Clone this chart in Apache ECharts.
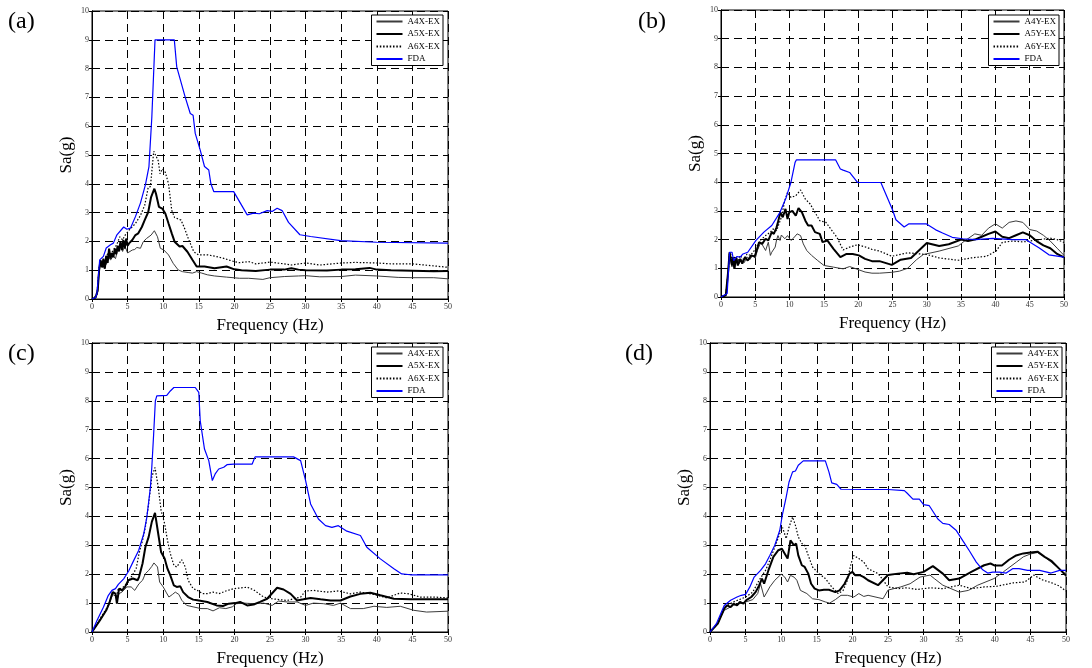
<!DOCTYPE html>
<html>
<head>
<meta charset="utf-8">
<script src="https://cdn.jsdelivr.net/npm/echarts@6/dist/echarts.min.js"></script>
<style>
html,body{margin:0;padding:0;background:#fff;}
#chart{width:1092px;height:668px;}
</style>
</head>
<body>
<div id="chart"></div>
<script>
// ---------- data (frequency Hz, Sa g) ----------
const xTicks = [0,5,10,15,20,25,30,35,40,45,50];
const yTicks = [0,1,2,3,4,5,6,7,8,9,10];
const panelLabels = ['(a)','(b)','(c)','(d)'];
const namesX = ['A4X-EX','A5X-EX','A6X-EX','FDA'];
const namesY = ['A4Y-EX','A5Y-EX','A6Y-EX','FDA'];

const aA4 = [[0,0],[0.5,0.03],[0.8,0.25],[1.0,0.95],[1.2,1.25],[1.5,1.1],[1.8,1.35],[2.0,1.2],[2.3,1.5],[2.6,1.35],[3.0,1.5],[3.3,1.4],[3.6,1.7],[4.0,1.9],[4.3,1.65],[4.6,1.85],[5.0,1.6],[5.2,1.59],[5.66,1.7],[6.0,1.72],[6.3,1.79],[6.8,1.76],[7.2,1.99],[7.65,2.1],[7.9,2.05],[8.3,2.22],[8.76,2.37],[9.2,2.16],[9.6,1.76],[10.1,1.7],[10.75,1.53],[11.4,1.24],[12.1,1.01],[12.7,0.95],[13.5,0.92],[14.1,0.9],[14.7,0.95],[15.4,0.9],[16.2,0.84],[17.2,0.8],[18.9,0.76],[20.7,0.72],[22,0.72],[24,0.68],[25,0.74],[27,0.78],[29,0.8],[30,0.81],[32,0.77],[35,0.78],[37,0.83],[40,0.8],[43,0.75],[45,0.74],[48,0.74],[50,0.7]];
const aA5 = [[0,0],[0.5,0.05],[0.8,0.3],[1.0,1.0],[1.2,1.35],[1.4,1.1],[1.6,1.4],[1.8,1.05],[2.0,1.5],[2.2,1.25],[2.4,1.75],[2.6,1.4],[2.8,1.6],[3.0,1.45],[3.2,1.75],[3.4,1.55],[3.6,1.85],[3.8,1.65],[4.0,2.0],[4.2,1.7],[4.4,2.05],[4.6,1.75],[4.8,2.1],[5.0,1.85],[5.2,1.93],[5.66,2.05],[6.1,2.22],[6.5,2.28],[7.0,2.5],[7.4,2.74],[7.9,3.02],[8.3,3.54],[8.76,3.83],[8.98,3.66],[9.4,3.2],[9.87,3.14],[10.3,2.97],[10.75,2.62],[11.2,2.28],[11.6,1.99],[12.3,1.82],[12.7,1.84],[13.4,1.64],[14.1,1.36],[14.7,1.13],[15.8,1.13],[17.2,1.07],[18.9,1.13],[20,1.03],[21,1.0],[23,0.97],[25,1.02],[27,1.02],[28,1.07],[29,1.02],[30,1.0],[33,0.99],[35,1.02],[37,1.03],[39,1.08],[40,1.02],[42,1.0],[45,0.98],[48,0.96],[50,0.97]];
const aA6 = [[0,0],[0.7,0.15],[1.0,1.1],[1.3,1.3],[1.6,1.1],[2.0,1.5],[2.3,1.6],[2.5,1.5],[3.0,1.7],[3.5,1.9],[3.9,2.16],[4.3,2.05],[4.6,2.2],[5.2,2.39],[6.1,2.62],[6.8,2.9],[7.4,3.25],[7.9,3.88],[8.2,3.9],[8.67,5.13],[9.3,4.8],[9.55,4.35],[9.9,4.52],[10.3,4.4],[10.75,4.0],[11.2,3.08],[11.6,2.83],[12.5,2.74],[12.96,2.48],[13.6,2.05],[14.3,1.64],[14.96,1.53],[16.3,1.53],[17.2,1.49],[18.5,1.41],[19.95,1.3],[20.7,1.26],[22,1.3],[23,1.22],[25,1.28],[27,1.22],[28,1.18],[30,1.25],[32,1.18],[35,1.25],[37,1.27],[40,1.25],[42,1.22],[45,1.22],[48,1.15],[50,1.1]];
const aFDA = [[0,0],[0.5,0.05],[0.7,0.2],[1.08,1.36],[1.6,1.48],[2.0,1.77],[2.6,1.88],[3.0,1.94],[3.5,2.23],[4.45,2.5],[4.9,2.42],[5.4,2.46],[6.1,2.86],[6.8,3.33],[7.5,3.96],[8.0,4.6],[8.4,6.3],[8.85,9.0],[11.56,9.0],[11.9,8.06],[13.1,7.0],[13.8,6.44],[14.2,6.38],[14.5,5.75],[15.2,5.17],[15.8,4.6],[16.4,4.48],[16.7,4.0],[17.1,3.73],[19.9,3.73],[21.8,2.92],[22.7,2.98],[23.5,2.96],[24.6,3.07],[25.3,3.04],[26.0,3.15],[26.7,3.07],[27.6,2.66],[29.2,2.23],[30.7,2.17],[34.9,2.03],[40,1.97],[50,1.94]];

const bA4 = [[0,0],[0.7,0.06],[1.0,0.8],[1.2,1.5],[1.4,1.45],[1.6,1.05],[1.8,1.35],[2.0,1.0],[2.3,1.35],[2.6,1.15],[3.0,1.3],[3.4,1.2],[3.8,1.4],[4.2,1.3],[4.6,1.45],[5.0,1.35],[5.3,1.62],[5.8,1.91],[6.5,1.62],[6.9,1.91],[7.2,1.45],[7.4,1.56],[7.9,1.74],[8.1,1.99],[8.3,2.14],[8.6,1.97],[8.8,2.16],[9.3,2.03],[9.7,2.14],[10.2,1.97],[10.6,2.06],[11.1,2.2],[11.6,2.14],[12.0,1.85],[12.5,1.62],[13.2,1.45],[14.1,1.27],[15.0,1.1],[16.4,1.04],[17.8,0.98],[18.75,1.06],[19.7,0.98],[21,0.87],[22,0.83],[23.1,0.83],[24.9,0.86],[26,0.9],[27.2,1.0],[28.5,1.3],[29.5,1.48],[31.8,1.6],[34.6,1.78],[35.5,1.95],[37,2.2],[38,2.15],[39,2.4],[40,2.55],[41,2.4],[42,2.6],[43,2.65],[44,2.6],[45,2.35],[46,2.3],[47,2.15],[48,1.95],[49,1.7],[50,1.45]];
const bA5 = [[0,0],[0.7,0.06],[1.06,0.93],[1.25,1.56],[1.5,1.5],[1.6,1.1],[1.76,1.39],[1.94,0.98],[2.2,1.39],[2.45,1.1],[2.8,1.33],[3.1,1.16],[3.5,1.39],[3.9,1.27],[4.4,1.45],[4.9,1.41],[5.2,1.62],[5.55,1.91],[6.0,1.85],[6.5,2.03],[6.9,1.97],[7.4,2.26],[7.7,2.2],[8.1,2.43],[8.3,2.6],[8.65,2.95],[9.0,2.78],[9.4,3.07],[9.7,2.72],[9.95,2.95],[10.4,3.0],[10.9,2.83],[11.3,3.1],[11.8,2.95],[12.3,2.66],[12.7,2.49],[13.2,2.49],[13.7,2.26],[14.4,2.2],[14.8,1.91],[15.5,1.97],[16.4,1.68],[17.4,1.39],[18.3,1.5],[19.2,1.5],[20.1,1.45],[21,1.33],[22,1.25],[23.1,1.25],[24.9,1.12],[26.2,1.3],[27.7,1.36],[30,1.88],[31.8,1.78],[33.2,1.84],[35,2.0],[36,1.95],[37,2.0],[38,2.1],[39,2.2],[40,2.28],[41,2.1],[42,2.05],[43,2.15],[44,2.25],[45,2.15],[46,1.95],[47,1.8],[48,1.7],[49,1.5],[50,1.38]];
const bA6 = [[0,0],[0.7,0.06],[1.1,1.0],[1.25,1.55],[1.5,1.45],[1.7,1.15],[2.0,1.4],[2.4,1.2],[2.8,1.45],[3.3,1.3],[3.8,1.5],[4.3,1.45],[4.8,1.6],[5.3,1.8],[5.8,1.99],[6.5,2.14],[7.2,2.26],[7.6,2.37],[8.1,2.31],[8.8,2.78],[9.3,3.36],[9.7,3.65],[10.2,3.47],[10.9,3.53],[11.6,3.73],[12.3,3.41],[13.0,3.24],[13.7,2.95],[14.4,2.66],[15.3,2.6],[16.0,2.37],[16.9,2.08],[17.8,1.64],[18.75,1.74],[19.9,1.82],[21.1,1.74],[22,1.66],[23.1,1.6],[24.9,1.42],[27.2,1.54],[30,1.48],[31.8,1.36],[34.6,1.28],[36.4,1.36],[38.7,1.42],[40.1,1.6],[41,1.9],[42.5,1.95],[44,1.92],[45,1.95],[46,1.98],[47,2.02],[48,2.05],[49,2.0],[50,1.9]];
const bFDA = [[0,0],[0.9,0.12],[1.25,1.56],[1.6,1.56],[1.85,1.27],[2.3,1.41],[2.8,1.39],[3.2,1.5],[3.9,1.56],[5.1,1.97],[6.25,2.26],[7.4,2.49],[8.6,2.95],[9.5,3.47],[10.2,4.0],[10.8,4.69],[11,4.78],[16.7,4.78],[17.4,4.46],[17.8,4.42],[18.75,4.34],[19.9,3.99],[23.3,3.99],[25,3.04],[25.5,2.69],[26.7,2.44],[27.4,2.55],[29.9,2.55],[31.3,2.34],[32.3,2.23],[33.7,2.08],[35.2,2.03],[37.1,2.0],[39.6,2.04],[42.5,2.0],[44.4,2.0],[46.4,1.71],[47.8,1.47],[50,1.39]];

const cA4 = [[0,0],[1.1,0.4],[2.0,0.75],[2.4,0.98],[2.9,1.3],[3.3,1.25],[3.5,1.1],[3.8,1.33],[4.2,1.38],[4.9,1.56],[5.5,1.56],[6.0,1.44],[6.6,1.67],[7.1,1.79],[7.5,2.02],[7.96,2.13],[8.4,2.27],[8.7,2.39],[9.2,2.25],[9.5,1.73],[10.0,1.56],[10.4,1.38],[10.8,1.21],[11.3,1.3],[11.7,1.38],[12.2,1.3],[12.6,1.1],[13.3,0.92],[14.2,0.87],[15.3,0.81],[16.2,0.81],[17.0,0.73],[17.9,0.84],[18.8,0.81],[19.7,0.87],[20.3,0.98],[21.3,1.0],[22.7,0.98],[24.1,1.0],[25.3,0.92],[26.2,1.07],[27.4,1.04],[28.8,1.04],[30,0.92],[31.1,1.0],[32.5,0.98],[33.9,0.92],[34.9,1.0],[36.3,0.81],[38.1,0.81],[39.6,0.89],[41.4,0.85],[43.3,0.89],[45.2,0.75],[47,0.69],[50,0.72]];
const cA5 = [[0,0],[1.1,0.4],[2.0,0.75],[2.4,0.98],[2.9,1.38],[3.3,1.33],[3.5,0.98],[3.8,1.5],[4.2,1.44],[4.65,1.56],[5.1,1.79],[5.75,1.85],[6.4,1.79],[6.6,1.9],[7.1,2.37],[7.5,2.94],[7.96,3.29],[8.4,3.81],[8.85,4.12],[9.3,3.4],[9.7,2.77],[10.2,2.54],[10.6,2.19],[11.0,1.96],[11.5,1.61],[11.9,1.56],[12.4,1.58],[12.8,1.38],[13.5,1.21],[14.2,1.12],[14.8,1.1],[16.2,1.04],[17.5,0.92],[18.4,0.9],[19.2,0.98],[20.1,1.0],[20.8,1.04],[21.8,0.92],[22.7,0.95],[23.6,1.04],[24.6,1.15],[26,1.53],[26.9,1.47],[27.9,1.32],[28.8,1.09],[29.7,1.13],[30.7,1.18],[32.1,1.13],[33.5,1.09],[34.9,1.09],[36.3,1.23],[37.7,1.32],[39.1,1.36],[40.5,1.27],[42.4,1.15],[44.7,1.13],[47,1.13],[50,1.13]];
const cA6 = [[0,0],[1.1,0.45],[2.0,0.8],[2.5,1.05],[3.0,1.4],[3.4,1.2],[3.7,1.5],[4.0,1.5],[4.4,1.56],[5.1,1.73],[5.5,1.9],[6.2,2.19],[6.6,2.71],[7.1,3.17],[7.5,3.63],[7.96,4.44],[8.4,5.37],[8.85,5.69],[9.3,5.02],[9.7,4.21],[10.2,3.75],[10.6,3.17],[11.0,2.71],[11.5,2.31],[11.9,2.25],[12.6,2.5],[13.1,2.25],[13.5,1.79],[14.2,1.5],[14.8,1.44],[15.5,1.33],[16.2,1.33],[17.0,1.38],[17.9,1.33],[18.8,1.42],[19.9,1.5],[21.8,1.55],[22.7,1.46],[24.1,1.21],[25.3,1.15],[27.4,1.09],[29.3,1.21],[30,1.42],[31.1,1.44],[33,1.38],[34.6,1.42],[36.3,1.32],[37.7,1.38],[39.6,1.3],[41.4,1.18],[43.3,1.35],[44.5,1.32],[46.1,1.21],[48,1.21],[50,1.18]];
const cFDA = [[0,0],[0.7,0.4],[1.6,0.86],[2.3,1.27],[2.8,1.44],[3.3,1.5],[3.7,1.65],[4.45,1.84],[5.15,2.11],[5.85,2.47],[6.55,2.82],[7.26,3.39],[7.7,3.97],[8.2,5.0],[8.4,5.7],[8.66,6.85],[8.9,8.0],[9.1,8.17],[10.5,8.19],[11,8.34],[11.5,8.46],[14.5,8.46],[15,8.29],[15.2,7.31],[15.8,6.33],[16.4,5.93],[16.9,5.24],[17.3,5.47],[17.8,5.64],[18.5,5.7],[18.96,5.79],[19.9,5.81],[22.5,5.81],[22.9,6.06],[28.3,6.06],[29.3,5.93],[30,5.24],[30.7,4.43],[31.8,3.91],[32.8,3.68],[33.7,3.62],[34.6,3.68],[35.8,3.49],[37.7,3.34],[38.6,2.93],[40.5,2.53],[42.4,2.19],[43.5,2.01],[44.7,1.98],[50,1.98]];

const dA4 = [[0,0],[1.1,0.31],[2.0,0.75],[3.3,0.92],[5.0,1.04],[6.0,1.12],[6.7,1.33],[7.1,1.67],[7.6,1.21],[8.0,1.38],[8.4,1.56],[9.1,1.79],[10.0,2.0],[10.5,1.9],[10.9,1.73],[11.3,1.96],[11.8,1.9],[12.2,1.79],[12.7,1.44],[13.6,1.33],[14.4,1.15],[15.3,1.12],[16.2,1.04],[16.8,1.0],[17.6,1.12],[18.4,1.27],[19.3,1.27],[20.2,1.21],[20.9,1.33],[21.6,1.23],[22.2,1.27],[23.6,1.19],[24.3,1.15],[25,1.45],[26.8,1.56],[28.1,1.67],[29.5,1.9],[30.9,1.97],[31.5,1.85],[32.7,1.62],[35,1.38],[36.3,1.44],[37.6,1.62],[39.9,1.85],[41.2,2.08],[43.1,2.43],[44,2.6],[45,2.7],[46,2.75],[47,2.6],[48,2.4],[49,2.2],[50,2.0]];
const dA5 = [[0,0],[1.1,0.29],[2.0,0.81],[2.4,0.92],[2.9,0.86],[3.3,0.98],[3.8,0.92],[4.2,1.04],[4.7,0.98],[5.1,1.1],[5.8,1.21],[6.4,1.38],[6.9,1.61],[7.3,1.85],[7.6,1.67],[8.2,2.13],[8.9,2.6],[9.6,2.83],[10.1,2.88],[10.5,2.71],[10.9,2.54],[11.3,3.17],[11.8,3.0],[12.1,3.06],[12.4,2.65],[12.9,2.31],[13.3,2.25],[13.8,2.02],[14.2,1.67],[14.7,1.5],[15.3,1.44],[16.0,1.46],[16.7,1.46],[17.6,1.38],[18.2,1.44],[18.9,1.67],[19.6,2.02],[20.0,2.08],[20.4,1.96],[21.1,1.96],[21.6,1.9],[22.2,1.79],[23.6,1.62],[25,1.97],[26.4,2.02],[27.7,2.05],[28.6,2.0],[30,2.08],[31.3,2.28],[32.7,2.02],[33.6,1.79],[35,1.85],[36.7,2.08],[38.5,2.31],[39.4,2.37],[40,2.3],[41,2.3],[42,2.5],[43,2.65],[44,2.72],[45,2.75],[46,2.78],[47,2.6],[48,2.45],[49,2.2],[50,1.95]];
const dA6 = [[0,0],[1.1,0.3],[2.0,0.86],[3.3,1.04],[5.0,1.21],[6.0,1.38],[6.9,1.79],[7.8,2.13],[8.4,2.48],[9.1,2.94],[9.8,3.4],[10.2,3.61],[10.7,3.23],[11.1,3.63],[11.6,3.98],[12.0,3.69],[12.4,3.29],[12.9,3.06],[13.3,3.0],[13.8,2.65],[14.4,2.25],[15.3,2.02],[16.2,1.85],[17.1,1.56],[18.0,1.33],[18.7,1.44],[19.3,1.79],[19.8,2.36],[20.2,2.65],[20.9,2.54],[21.6,2.42],[22.2,2.19],[23.6,2.02],[24.3,1.8],[25,1.56],[26.4,1.5],[27.7,1.53],[29.1,1.47],[30.9,1.53],[32.7,1.5],[35,1.62],[36.7,1.5],[38.5,1.56],[40.2,1.58],[42.6,1.7],[44.2,1.73],[45.5,1.97],[46.6,1.81],[48,1.7],[49,1.6],[50,1.42]];
const dFDA = [[0,0],[0.9,0.29],[2.0,0.92],[2.9,1.1],[3.8,1.21],[4.4,1.27],[5.0,1.3],[5.6,1.56],[6.2,1.9],[7.1,2.13],[7.8,2.36],[8.4,2.65],[9.1,3.0],[9.8,3.52],[10.2,4.1],[10.7,4.67],[11.1,5.19],[11.6,5.54],[12.0,5.57],[12.4,5.77],[13.1,5.92],[16.2,5.92],[16.7,5.54],[17.1,5.16],[17.8,5.11],[18.4,4.94],[22.2,4.93],[25,4.93],[27.3,4.89],[27.7,4.8],[28.5,4.6],[29.4,4.6],[30,4.41],[30.8,4.37],[32,3.91],[32.7,3.76],[33.6,3.72],[34.6,3.51],[35.5,3.16],[36.4,2.82],[37.4,2.42],[38.3,2.15],[39,2.04],[39.7,2.07],[40.6,2.07],[41.6,2.04],[42.5,2.19],[43.4,2.19],[44.6,2.13],[46.3,2.13],[47.9,2.04],[49.1,2.13],[50,2.13]];

// ---------- layout / style ----------
const FONT = 'Liberation Serif';
const panels = [
  {grid:{left:92, top:11, width:356, height:288}, names:namesX, data:[aA4,aA5,aA6,aFDA], legend:{right:1092-443, top:15}, label:{x:8, y:10}},
  {grid:{left:721, top:10, width:343, height:287}, names:namesY, data:[bA4,bA5,bA6,bFDA], legend:{right:1092-1059, top:15}, label:{x:638, y:10}},
  {grid:{left:92, top:343, width:356, height:289}, names:namesX, data:[cA4,cA5,cA6,cFDA], legend:{right:1092-443, top:347}, label:{x:8, y:342}},
  {grid:{left:710, top:343, width:356, height:289}, names:namesY, data:[dA4,dA5,dA6,dFDA], legend:{right:1092-1062, top:347}, label:{x:625, y:342}}
];
const lineStyles = [
  {color:'#3c3c3c', width:1, type:'solid'},
  {color:'#000000', width:2, type:'solid'},
  {color:'#000000', width:1.2, type:[1.5,1.8]},
  {color:'#0000ff', width:1.2, type:'solid'}
];

const option = {animation:false, backgroundColor:'#fff', grid:[], xAxis:[], yAxis:[], series:[], legend:[], graphic:[]};

panels.forEach((p, i) => {
  option.grid.push(Object.assign({show:true, borderColor:'#000', borderWidth:1, backgroundColor:'transparent'}, p.grid));
  const axisLine = {show:true, lineStyle:{color:'#000', width:1}};
  const label = {fontSize:8, color:'#333', fontFamily:FONT, margin:4};
  option.xAxis.push({
    type:'value', gridIndex:i, min:xTicks[0], max:xTicks[xTicks.length-1], interval:5,
    name:'Frequency (Hz)', nameLocation:'middle', nameGap:18,
    nameTextStyle:{fontSize:17, fontFamily:FONT, color:'#000'},
    axisLine, axisTick:{inside:true, length:3, lineStyle:{color:'#000'}},
    axisLabel:label,
    splitLine:{show:true, lineStyle:{color:'#000', width:1, type:[8,5]}}
  });
  option.xAxis.push({
    type:'value', gridIndex:i, position:'top', min:xTicks[0], max:xTicks[xTicks.length-1], interval:5,
    axisLine, axisTick:{inside:true, length:3, lineStyle:{color:'#000'}}, axisLabel:{show:false}, splitLine:{show:false}
  });
  option.yAxis.push({
    type:'value', gridIndex:i, min:yTicks[0], max:yTicks[yTicks.length-1], interval:1,
    name:'Sa(g)', nameLocation:'middle', nameGap:17, nameRotate:90,
    nameTextStyle:{fontSize:17, fontFamily:FONT, color:'#000'},
    axisLine, axisTick:{inside:true, length:3, lineStyle:{color:'#000'}},
    axisLabel:Object.assign({}, label, {margin:3}),
    splitLine:{show:true, lineStyle:{color:'#000', width:1, type:[8,5]}}
  });
  option.yAxis.push({
    type:'value', gridIndex:i, position:'right', min:yTicks[0], max:yTicks[yTicks.length-1], interval:1,
    axisLine, axisTick:{inside:true, length:3, lineStyle:{color:'#000'}}, axisLabel:{show:false}, splitLine:{show:false}
  });
  p.names.forEach((nm, k) => {
    option.series.push({
      type:'line', name:nm, xAxisIndex:2*i, yAxisIndex:2*i, data:p.data[k],
      showSymbol:false, symbol:'none', smooth:false,
      lineStyle:lineStyles[k], itemStyle:{color:lineStyles[k].color}, z:2+k
    });
  });
  option.legend.push({
    data:p.names, orient:'vertical', right:p.legend.right, top:p.legend.top,
    align:'left', backgroundColor:'#fff', borderColor:'#000', borderWidth:1,
    padding:[2,3,2,4], itemWidth:26, itemHeight:6, itemGap:3.5, selectedMode:false,
    itemStyle:{opacity:0, borderWidth:0},
    textStyle:{fontSize:9, fontFamily:FONT, color:'#000', lineHeight:9}
  });
  option.graphic.push({
    type:'text', left:p.label.x, top:p.label.y,
    style:{text:panelLabels[i], font:'24px "Liberation Serif"', fill:'#000'}
  });
});

const chart = echarts.init(document.getElementById('chart'), null, {renderer:'canvas'});
chart.setOption(option);
</script>
</body>
</html>
